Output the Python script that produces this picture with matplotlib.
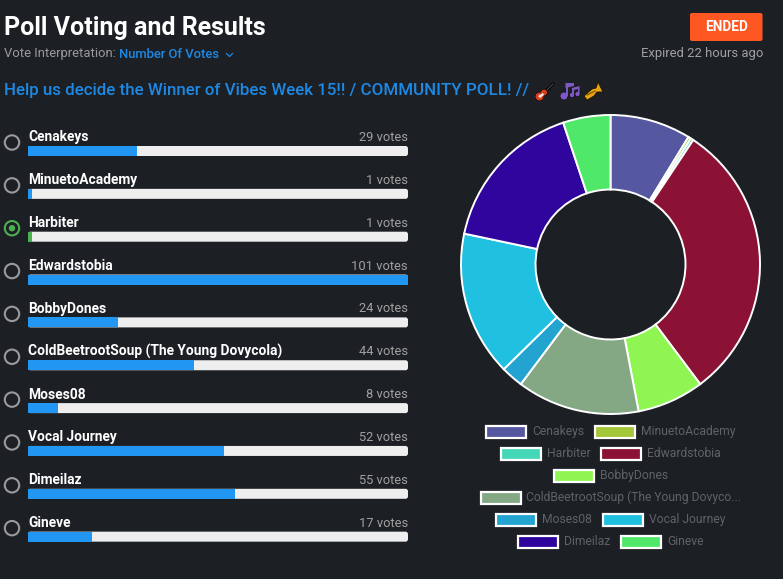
import numpy as np
from matplotlib import pyplot as plt
from matplotlib.patches import FancyBboxPatch, Circle, Polygon, Rectangle

plt.rcParams['font.family'] = ['Roboto', 'DejaVu Sans']

names = ['Cenakeys', 'MinuetoAcademy', 'Harbiter', 'Edwardstobia', 'BobbyDones',
         'ColdBeetrootSoup (The Young Dovycola)', 'Moses08', 'Vocal Journey', 'Dimeilaz', 'Gineve']
votes = [29, 1, 1, 101, 24, 44, 8, 52, 55, 17]
slice_colors = ['#5558a0', '#a4c639', '#45d8b8', '#8c1235', '#8ef552',
                '#84a884', '#22a3d0', '#20c0e0', '#30059e', '#50e868']
legend_names = ['Cenakeys', 'MinuetoAcademy', 'Harbiter', 'Edwardstobia', 'BobbyDones',
                'ColdBeetrootSoup (The Young Dovyco...', 'Moses08', 'Vocal Journey', 'Dimeilaz', 'Gineve']
legend_rows = [[0, 1], [2, 3], [4], [5], [6, 7], [8, 9]]
winner = 2

BG = '#1c2024'
BLUE = '#2196f3'
GREEN = '#4caf50'
W, H = 783, 579

fig = plt.figure(figsize=(W / 100, H / 100), dpi=100, facecolor=BG)

# whole figure in pixel coordinates for the page furniture
ax = fig.add_axes([0, 0, 1, 1])
ax.set_xlim(0, W)
ax.set_ylim(H, 0)
ax.axis('off')


def px_axes(x0, y0, x1, y1):
    return fig.add_axes([x0 / W, 1 - y1 / H, (x1 - x0) / W, (y1 - y0) / H])


# header
ax.text(4, 28, 'Poll Voting and Results', color='white', fontsize=18, fontweight='bold', va='center')
ax.text(4, 54, 'Vote Interpretation:', color='#9a9a9a', fontsize=9.4, va='center')
ax.text(119, 54, 'Number Of Votes', color='#1e88e5', fontsize=9.4, fontweight='medium', va='center')
ax.plot([226.5, 229.5, 232.5], [53.5, 56.5, 53.5], color='#1e88e5', lw=0.9)
ax.add_patch(FancyBboxPatch((690, 13), 72.5, 28, boxstyle='round,pad=0,rounding_size=2', fc='#ff5722', ec='none'))
ax.text(726.5, 27, 'ENDED', color='white', fontsize=9.8, fontweight='bold', ha='center', va='center')
ax.text(763, 54, 'Expired 22 hours ago', color='#a0a0a0', fontsize=9.4, ha='right', va='center')
ax.text(4, 91, 'Help us decide the Winner of Vibes Week 15!! / COMMUNITY POLL! //', color='#1e88e5',
        fontsize=12.2, fontweight='medium', va='center')

# guitar
ax.plot([545, 553], [92, 84], color='#000000', lw=2.2, solid_capstyle='round')
ax.plot([545, 553], [92, 84], color='#555555', lw=0.7)
ax.add_patch(Circle((539.5, 96.5), 4.2, fc='#d8401c', ec='black', lw=0.5, zorder=3))
ax.add_patch(Circle((544, 92.5), 3.4, fc='#d8401c', ec='black', lw=0.5, zorder=3))
ax.add_patch(Circle((539.5, 96.5), 3.9, fc='#d8401c', ec='none', zorder=3))
ax.add_patch(Polygon([[538, 96], [543, 93], [544, 95], [540, 98]], fc='#f0e8e0', ec='none', zorder=4))
# notes
for x0, y0, r in [(564, 96, 4), (572, 95, 2.6), (577.5, 94, 2.6)]:
    ax.add_patch(Circle((x0, y0), r, fc='#7e57c2', ec='black', lw=0.4, zorder=3))
ax.add_patch(Rectangle((565.5, 83), 2.6, 13, fc='#7e57c2', ec='none', zorder=3))
ax.add_patch(Polygon([[565.5, 83], [574, 83], [574, 86], [565.5, 88]], fc='#7e57c2', ec='none', zorder=3))
ax.add_patch(Polygon([[572, 88], [579.5, 86], [579.5, 94], [578, 94], [578, 89], [574, 90], [574, 95], [572, 95]],
                     fc='#7e57c2', ec='none', zorder=3))
# trumpet
ax.add_patch(Polygon([[584, 96], [592, 89], [596, 88], [598, 82], [603, 92], [597, 92], [594, 96], [587, 100]],
                     fc='#e8a317', ec='#1a1400', lw=0.6, zorder=3))
ax.plot([587, 595], [95, 91], color='#7a5200', lw=0.8, zorder=4)

# tracks and radio buttons
tops = [146 + 42.85 * i for i in range(len(names))]
for i, (name, n) in enumerate(zip(names, votes)):
    y = tops[i]
    ax.add_patch(FancyBboxPatch((28, y), 380, 10, boxstyle='round,pad=0,rounding_size=2.5',
                                fc='#eeeeee', ec='none'))
    ax.text(28, y - 8.5, name, color='white', fontsize=9.9, fontweight='bold', va='center')
    ax.text(408, y - 8.5, f'{n} votes', color='#a0a0a0', fontsize=9.3, ha='right', va='center')
    col = GREEN if i == winner else '#9a9a9a'
    ax.add_patch(Circle((12, y - 3.5), 7.2, fc='none', ec=col, lw=1.5))
    if i == winner:
        ax.add_patch(Circle((12, y - 3.5), 3.2, fc=col, ec='none'))

# bars on their own scale
bx = px_axes(28, 146, 408, tops[-1] + 10)
bx.patch.set_alpha(0)
bx.axis('off')
bar_colors = [GREEN if i == winner else BLUE for i in range(len(names))]
bx.barh(range(len(names)), votes, height=10 / 42.85, color=bar_colors)
bx.set_xlim(0, max(votes))
bx.set_ylim(len(names) - 1 + 5 / 42.85, -5 / 42.85)

# donut
px = px_axes(455.5, 109.5, 765.5, 419.5)
px.pie(votes, colors=slice_colors, startangle=90, counterclock=False, radius=149.5 / 155,
       wedgeprops=dict(width=74.5 / 155, edgecolor='white', linewidth=1.4))
px.set_xlim(-1, 1)
px.set_ylim(-1, 1)

# legend, centred rows
row_y = [431.5, 453.5, 475.5, 497.5, 519.5, 541.5]
for row, y in zip(legend_rows, row_y):
    r = fig.canvas.get_renderer()
    widths = []
    txts = []
    for k in row:
        t = ax.text(0, y, legend_names[k], color='#5f6368', fontsize=8.75, va='center')
        txts.append(t)
        widths.append(t.get_window_extent(r).width)
    total = sum(w + 47 for w in widths) + 10 * (len(row) - 1)
    x = 610.5 - total / 2
    for k, t, w in zip(row, txts, widths):
        ax.add_patch(Rectangle((x + 1, y - 6), 40, 12, fc=slice_colors[k], ec='white', lw=1.6))
        t.set_x(x + 47)
        x += w + 47 + 10

fig.savefig('out.png', dpi=100, facecolor=BG)
